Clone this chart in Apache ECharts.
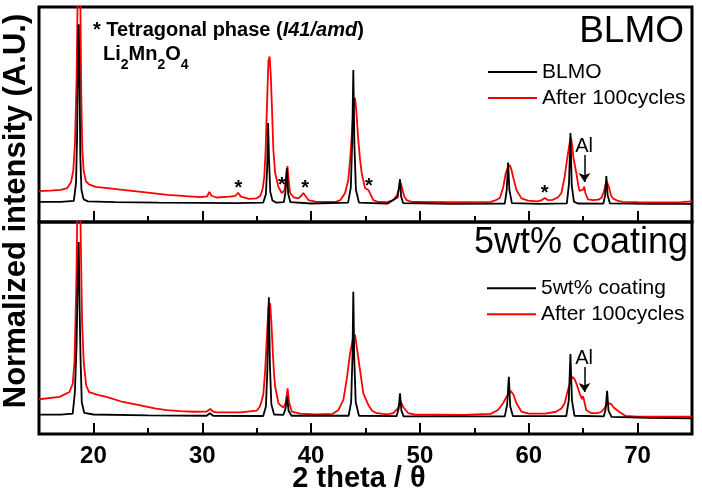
<!DOCTYPE html>
<html><head><meta charset="utf-8">
<script src="https://cdn.jsdelivr.net/npm/echarts@6/dist/echarts.min.js"></script>
<style>html,body{margin:0;padding:0;background:#fff}#c{width:702px;height:497px}</style>
</head><body><div id="c"></div>
<script>
const FONT = 'Arial, "Liberation Sans", sans-serif';

// 2theta (deg), normalized intensity (0-100 per panel)
const blmoPristine = [[15,9.4],[17,9.4],[18.2,9.8],[18.4,18],[18.5,40],[18.6,80],[18.65,92],[18.72,68],[18.8,30],[18.9,15],[19.1,10.5],[19.5,9.6],[22,9.2],[26,9.0],[30,8.9],[33,8.8],[35.6,9.0],[35.85,13],[35.97,26],[36.05,46],[36.13,30],[36.25,14],[36.45,10],[36.8,9],[37.5,9.2],[37.65,14],[37.77,25],[37.9,13],[38.1,9.2],[40,8.6],[43.4,9],[43.65,16],[43.78,38],[43.88,70.7],[43.98,36],[44.12,15],[44.4,9],[47,8.5],[47.95,11.5],[48.07,16],[48.17,19.9],[48.27,12],[48.45,8.8],[53,8.4],[57.8,8.6],[57.98,15],[58.1,27.6],[58.22,15],[58.45,8.8],[61,8.4],[63.5,8.7],[63.7,18],[63.83,41.4],[63.95,17],[64.15,9.5],[64.5,8.6],[66.85,8.5],[67.02,12.5],[67.13,21.4],[67.25,12.5],[67.45,8.7],[71,8.4],[75,8.4]];

const blmoCycled = [[15,14.4],[16,14.6],[17,14.9],[17.6,15.8],[17.95,18.6],[18.15,24],[18.3,36],[18.45,65],[18.55,104],[18.8,104],[18.88,60],[18.98,34],[19.1,24],[19.3,19],[19.6,17.5],[20.2,16.3],[21.5,15.6],[22.7,14.9],[24.8,13.8],[26.8,12.6],[28.5,12],[29.8,11.6],[30.45,11.9],[30.65,14],[30.85,12.2],[31.3,11.4],[32.5,11.8],[33.05,12.2],[33.3,13.6],[33.55,11.8],[34.3,10.8],[35.0,11],[35.35,12.2],[35.55,15.5],[35.7,21],[35.82,33],[35.94,53],[36.08,75],[36.19,77],[36.3,68],[36.39,55],[36.54,33],[36.7,22.8],[37.0,16.3],[37.3,13.5],[37.55,14.5],[37.72,21],[37.83,26],[37.95,19],[38.07,13.5],[38.4,11.5],[38.83,11],[39.1,12.2],[39.29,13.5],[39.5,12],[39.75,10.2],[40.5,9.4],[41.5,9.3],[42.3,9.5],[42.7,10.2],[43.12,13.5],[43.42,19.5],[43.6,30],[43.8,45],[43.95,56],[44.04,57.7],[44.15,52],[44.34,38],[44.5,29],[44.65,22.8],[44.95,15.8],[45.1,15.2],[45.26,14.9],[45.45,13],[45.72,10.2],[46.15,9.3],[47,9.2],[47.55,10.2],[47.9,12.5],[48.1,16],[48.23,18.3],[48.4,15],[48.55,12],[48.78,10.2],[49.3,9.3],[53,9.2],[56.5,9.4],[57.0,10.2],[57.34,11.2],[57.64,15.8],[57.89,22.8],[58.1,25.5],[58.26,26.5],[58.4,24.5],[58.56,21],[58.87,14.9],[59.33,11],[59.94,9.9],[60.8,9.6],[61.2,10.2],[61.47,11.2],[61.75,10.2],[62.2,10.3],[62.7,11.5],[63.0,13.5],[63.3,21],[63.51,28.8],[63.7,35],[63.87,39.5],[63.98,36],[64.1,30],[64.37,22.8],[64.55,17],[64.67,14.5],[64.85,13.8],[64.98,15],[65.1,16.5],[65.2,13.5],[65.44,10.5],[65.9,10.2],[66.4,10.4],[66.67,11.2],[66.9,14],[67.05,17.5],[67.18,18.7],[67.35,16.5],[67.55,12.5],[67.73,11],[68.2,9.8],[68.65,9.4],[70,9.2],[72,9.1],[74,9.2],[75,9.6]];

const coatPristine = [[15,9.1],[17,9.1],[18.1,9.6],[18.3,20],[18.45,42],[18.58,78],[18.65,90.6],[18.73,60],[18.82,35],[18.93,15],[19.15,10],[20,9.2],[25,8.8],[30.4,8.6],[30.7,9.8],[31,8.6],[35.6,8.5],[35.85,13],[35.98,30],[36.12,64.5],[36.22,32],[36.35,14],[36.6,9.2],[37.45,9],[37.65,12],[37.8,17.6],[37.93,11],[38.2,8.6],[43.45,8.6],[43.68,15],[43.8,36],[43.88,67.1],[43.97,35],[44.1,15],[44.4,8.6],[47.85,8.4],[48.05,12],[48.17,19.2],[48.3,11],[48.5,8.3],[57.8,8.3],[58.02,14],[58.17,27],[58.3,13],[58.55,8.4],[63.45,8.4],[63.68,16],[63.83,37.7],[63.97,16],[64.2,8.6],[66.9,8.3],[67.07,12],[67.2,20.4],[67.33,11],[67.6,8.1],[71,7.6],[75,7.4]];

const coatCycled = [[15,16.4],[16.9,17.5],[17.8,19.8],[18.1,23.7],[18.26,34],[18.42,68.5],[18.52,104],[18.8,104],[18.96,52.8],[19.11,34],[19.33,23],[19.6,19.8],[20.4,18.5],[21.2,17.5],[22.7,15.1],[24.2,13.6],[25.75,12],[26.76,11.3],[28,10.8],[29.2,10.5],[30.4,10.6],[30.73,11.8],[31.0,10.6],[31.35,10.2],[33.5,10.2],[35.0,11],[35.3,13],[35.48,16],[35.62,19],[35.78,30],[35.9,42],[36.08,60],[36.24,61.6],[36.36,52],[36.49,38],[36.6,28],[36.7,22.3],[37.0,14.6],[37.2,13.5],[37.46,12.5],[37.68,15],[37.84,21.5],[37.98,15],[38.23,10.5],[39.0,9.6],[40.5,9.2],[42.0,9.5],[42.5,11.3],[42.96,16],[43.27,25.5],[43.58,38],[43.85,45],[44.04,46.7],[44.2,41],[44.5,30],[44.8,19.2],[45.26,13.7],[45.6,11],[46.03,9.8],[47,9.3],[47.55,9.8],[47.95,12],[48.23,15.2],[48.5,12.5],[48.93,9.8],[49.5,9.2],[54,9],[56.5,9.5],[57.18,11.3],[57.64,14.5],[58.0,18],[58.35,20.3],[58.6,18.5],[58.87,14.5],[59.33,10.5],[60,9.6],[61.5,9.6],[62.5,10.5],[63.0,12],[63.3,14.5],[63.6,20.8],[63.85,25],[64.01,27],[64.2,26],[64.37,23.9],[64.67,19.2],[64.9,16.5],[64.98,17.8],[65.08,16],[65.28,11.3],[65.75,9.8],[66.3,9.8],[66.67,10.5],[67.0,12.5],[67.25,14.8],[67.4,15.2],[67.6,14],[67.8,12.5],[68.3,10.5],[68.9,8.5],[70,8.2],[75,8.2]];

// tetragonal-phase markers (*) in top panel
const starTheta = [33.33, 37.31, 39.45, 45.32, 61.47];
const starLevel = [15.4, 17.0, 15.4, 16.6, 13.3];
// Al reflection marker
const alTheta = 65.12;
const alTop = {label: 34.9, from: 31.2, to: 18.6};
const alBottom = {label: 35.4, from: 31.6, to: 19.8};

const xMin = 15, xMax = 75;
const panelNames = ['BLMO', '5wt% coating'];
const cycledName = 'After 100cycles';

const chart = echarts.init(document.getElementById('c'), null, {renderer: 'canvas'});

function majorAxis(g, showLabel) {
  return {
    type: 'value', gridIndex: g, min: xMin, max: xMax, position: 'bottom',
    axisLine: {show: false},
    axisTick: {show: true, inside: true, length: 11, lineStyle: {color: '#000', width: 2}},
    splitLine: {show: false},
    axisLabel: {show: showLabel, margin: 10, color: '#000', fontFamily: FONT, fontSize: 24, fontWeight: 'bold',
      formatter: v => (v % 10 === 0 ? String(v) : '')}
  };
}
function minorAxis(g) {
  return {
    type: 'value', gridIndex: g, min: xMin, max: xMax, interval: 5, position: 'bottom',
    axisLine: {show: false},
    axisTick: {show: true, inside: true, length: 6, lineStyle: {color: '#000', width: 2}},
    splitLine: {show: false},
    axisLabel: {show: false}
  };
}
function alMarks(m) {
  return {
    markLine: {
      silent: true, animation: false, symbol: ['none', 'arrow'], symbolSize: 9,
      lineStyle: {color: '#000', width: 1.5, type: 'solid'},
      label: {show: false},
      data: [[{coord: [alTheta, m.from]}, {coord: [alTheta, m.to]}]]
    },
    markPoint: {
      silent: true, animation: false, symbol: 'circle', symbolSize: 0,
      itemStyle: {color: 'rgba(0,0,0,0)'},
      label: {show: true, position: 'inside', formatter: 'Al', color: '#000', fontFamily: FONT, fontSize: 20, textBorderWidth: 0},
      data: [{coord: [alTheta - 0.03, m.label]}]
    }
  };
}

const lineBase = {type: 'line', symbol: 'none', showSymbol: false, clip: true, animation: false};
const legendBase = {orient: 'vertical', padding: 0, itemGap: 5, itemWidth: 49, itemHeight: 2, icon: 'rect',
  selectedMode: false, textStyle: {color: '#000', fontFamily: FONT, fontSize: 21}};

const option = {
  backgroundColor: '#fff',
  animation: false,
  grid: [
    {left: 39, right: 10, top: 7, height: 215, show: true, borderColor: '#000', borderWidth: 3, backgroundColor: 'transparent'},
    {left: 39, right: 10, top: 222, height: 212, show: true, borderColor: '#000', borderWidth: 3, backgroundColor: 'transparent'}
  ],
  xAxis: [majorAxis(0, false), minorAxis(0), majorAxis(1, true), minorAxis(1)],
  yAxis: [
    {type: 'value', gridIndex: 0, min: 0, max: 100, show: false},
    {type: 'value', gridIndex: 1, min: 0, max: 100, show: false}
  ],
  legend: [
    Object.assign({}, legendBase, {left: 488, top: 61.5, data: [panelNames[0], cycledName]}),
    Object.assign({}, legendBase, {left: 487, top: 277.8, data: [panelNames[1], cycledName]})
  ],
  series: [
    Object.assign({}, lineBase, {
      name: cycledName, xAxisIndex: 0, yAxisIndex: 0, z: 2, data: blmoCycled,
      lineStyle: {color: '#ff0000', width: 1.8}, itemStyle: {color: '#ff0000'},
      markPoint: {
        silent: true, animation: false, symbol: 'circle', symbolSize: 0,
        itemStyle: {color: 'rgba(0,0,0,0)'},
        label: {show: true, position: 'inside', formatter: '*', color: '#000', fontFamily: FONT, fontSize: 20, fontWeight: 'bold', textBorderWidth: 0},
        data: starTheta.map((t, i) => ({coord: [t, starLevel[i]]}))
      }
    }),
    Object.assign({}, lineBase, {
      name: panelNames[0], xAxisIndex: 0, yAxisIndex: 0, z: 3, data: blmoPristine,
      lineStyle: {color: '#000', width: 1.8}, itemStyle: {color: '#000'}
    }, alMarks(alTop)),
    Object.assign({}, lineBase, {
      name: cycledName, xAxisIndex: 2, yAxisIndex: 1, z: 2, data: coatCycled,
      lineStyle: {color: '#ff0000', width: 1.8}, itemStyle: {color: '#ff0000'}
    }),
    Object.assign({}, lineBase, {
      name: panelNames[1], xAxisIndex: 2, yAxisIndex: 1, z: 3, data: coatPristine,
      lineStyle: {color: '#000', width: 1.8}, itemStyle: {color: '#000'}
    }, alMarks(alBottom))
  ],
  graphic: [
    {type: 'text', x: 93, y: 30, z: 10, style: {
      text: '{b|* Tetragonal phase (}{i|I41/amd}{b|)}', align: 'left', verticalAlign: 'middle',
      rich: {
        b: {fontFamily: FONT, fontSize: 20, fontWeight: 'bold', fill: '#000', color: '#000'},
        i: {fontFamily: FONT, fontSize: 20, fontWeight: 'bold', fontStyle: 'italic', fill: '#000', color: '#000'}
      }}},
    {type: 'text', x: 103, y: 52, z: 10, style: {
      text: '{m|Li}{s|2}{m|Mn}{s|2}{m|O}{s|4}', align: 'left', verticalAlign: 'top',
      rich: {
        m: {fontFamily: FONT, fontSize: 20, fontWeight: 'bold', lineHeight: 20, padding: [0, 0, 8, 0], verticalAlign: 'bottom', fill: '#000', color: '#000'},
        s: {fontFamily: FONT, fontSize: 14, fontWeight: 'bold', lineHeight: 14, verticalAlign: 'bottom', fill: '#000', color: '#000'}
      }}},
    {type: 'text', x: 684, y: 32, z: 10, style: {text: panelNames[0], align: 'right', verticalAlign: 'middle', fontFamily: FONT, fontSize: 37, fill: '#000'}},
    {type: 'text', x: 688, y: 243, z: 10, style: {text: panelNames[1], align: 'right', verticalAlign: 'middle', fontFamily: FONT, fontSize: 36, fill: '#000'}},
    {type: 'text', x: 359, y: 479, z: 10, style: {text: '2 theta / θ', align: 'center', verticalAlign: 'middle', fontFamily: FONT, fontSize: 29, fontWeight: 'bold', fill: '#000'}},
    {type: 'text', x: 16, y: 211, rotation: Math.PI / 2, z: 10, style: {text: 'Normalized intensity (A.U.)', align: 'center', verticalAlign: 'middle', fontFamily: FONT, fontSize: 31, fontWeight: 'bold', fill: '#000'}}
  ]
};
chart.setOption(option);
</script>
</body></html>
